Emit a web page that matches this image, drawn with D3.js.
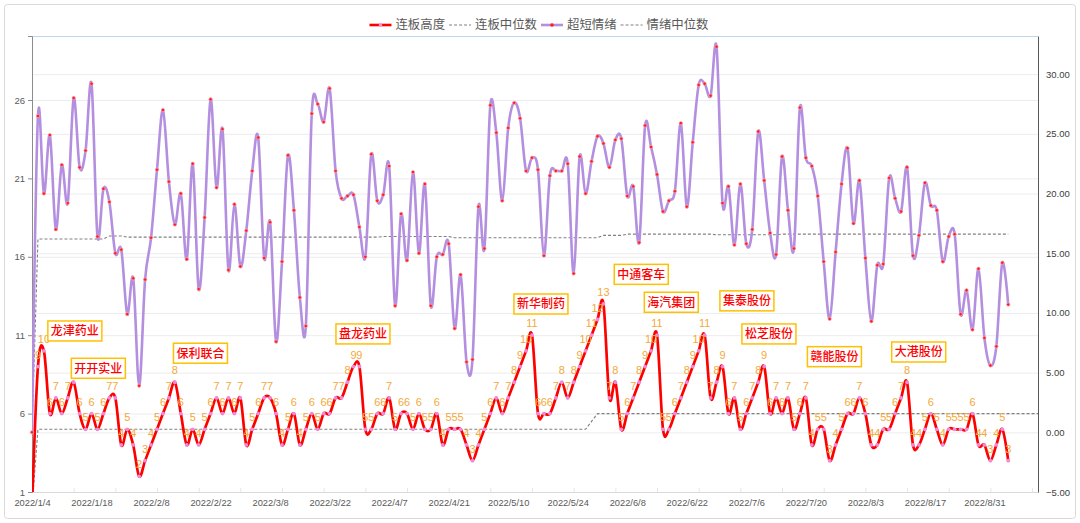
<!DOCTYPE html>
<html><head><meta charset="utf-8">
<script src="https://cdn.jsdelivr.net/npm/d3@7"></script>
<style>html,body{margin:0;padding:0;background:#fff;}svg{display:block;}</style>
</head><body>
<svg id="c" width="1080" height="523"></svg>
<script>
// ---------- data ----------
const dates = [
"2022/1/4","2022/1/5","2022/1/6","2022/1/7","2022/1/10","2022/1/11","2022/1/12","2022/1/13","2022/1/14","2022/1/17",
"2022/1/18","2022/1/19","2022/1/20","2022/1/21","2022/1/24","2022/1/25","2022/1/26","2022/1/27","2022/1/28","2022/2/7",
"2022/2/8","2022/2/9","2022/2/10","2022/2/11","2022/2/14","2022/2/15","2022/2/16","2022/2/17","2022/2/18","2022/2/21",
"2022/2/22","2022/2/23","2022/2/24","2022/2/25","2022/2/28","2022/3/1","2022/3/2","2022/3/3","2022/3/4","2022/3/7",
"2022/3/8","2022/3/9","2022/3/10","2022/3/11","2022/3/14","2022/3/15","2022/3/16","2022/3/17","2022/3/18","2022/3/21",
"2022/3/22","2022/3/23","2022/3/24","2022/3/25","2022/3/28","2022/3/29","2022/3/30","2022/3/31","2022/4/1","2022/4/6",
"2022/4/7","2022/4/8","2022/4/11","2022/4/12","2022/4/13","2022/4/14","2022/4/15","2022/4/18","2022/4/19","2022/4/20",
"2022/4/21","2022/4/22","2022/4/25","2022/4/26","2022/4/27","2022/4/28","2022/4/29","2022/5/5","2022/5/6","2022/5/9",
"2022/5/10","2022/5/11","2022/5/12","2022/5/13","2022/5/16","2022/5/17","2022/5/18","2022/5/19","2022/5/20","2022/5/23",
"2022/5/24","2022/5/25","2022/5/26","2022/5/27","2022/5/30","2022/5/31","2022/6/1","2022/6/2","2022/6/6","2022/6/7",
"2022/6/8","2022/6/9","2022/6/10","2022/6/13","2022/6/14","2022/6/15","2022/6/16","2022/6/17","2022/6/20","2022/6/21",
"2022/6/22","2022/6/23","2022/6/24","2022/6/27","2022/6/28","2022/6/29","2022/6/30","2022/7/1","2022/7/4","2022/7/5",
"2022/7/6","2022/7/7","2022/7/8","2022/7/11","2022/7/12","2022/7/13","2022/7/14","2022/7/15","2022/7/18","2022/7/19",
"2022/7/20","2022/7/21","2022/7/22","2022/7/25","2022/7/26","2022/7/27","2022/7/28","2022/7/29","2022/8/1","2022/8/2",
"2022/8/3","2022/8/4","2022/8/5","2022/8/8","2022/8/9","2022/8/10","2022/8/11","2022/8/12","2022/8/15","2022/8/16",
"2022/8/17","2022/8/18","2022/8/19","2022/8/22","2022/8/23","2022/8/24","2022/8/25","2022/8/26","2022/8/29","2022/8/30",
"2022/8/31","2022/9/1","2022/9/2","2022/9/5","2022/9/6","2022/9/7","2022/9/8","2022/9/9","2022/9/13","2022/9/14"
];

// 连板高度 (left axis)
const lianbanHeight = [
0,9,10,6,7,6,7,8,6,5,
6,5,6,7,7,4,5,4,2,3,
4,5,6,7,8,6,4,5,4,5,
6,7,6,7,6,7,4,5,6,7,
7,6,4,5,6,4,5,6,5,6,
6,7,7,8,9,9,5,5,6,6,
7,5,6,6,5,6,5,5,6,4,
5,5,5,4,3,4,5,6,7,6,
7,8,9,10,11,6,6,6,7,8,
7,8,9,10,11,12,13,7,8,5,
6,7,8,9,10,11,5,5,6,7,
8,9,10,11,7,8,9,6,7,5,
6,7,8,9,6,7,6,7,5,6,
7,4,5,5,3,4,5,6,6,7,
6,4,4,5,5,6,7,8,4,4,
5,6,5,4,5,5,5,5,6,4,
4,3,4,5,3,null,null,null,null,null
];

// 连板中位数 (left axis)
const lianbanMedian = [
0,5,5,5,5,5,5,5,5,5,
5,5,5,5,5,5,5,5,5,5,
5,5,5,5,5,5,5,5,5,5,
5,5,5,5,5,5,5,5,5,5,
5,5,5,5,5,5,5,5,5,5,
5,5,5,5,5,5,5,5,5,5,
5,5,5,5,5,5,5,5,5,5,
5,5,5,5,5,5,5,5,5,5,
5,5,5,5,5,5,5,5,5,5,
5,5,5,5,5.5,6,6,6,6,6,
6,6,6,6,6,6,6,6,6,6,
6,6,6,6,6,6,6,6,6,6,
6,6,6,6,6,6,6,6,6,6,
6,6,6,6,6,6,6,6,6,6,
6,6,6,6,6,6,6,6,6,6,
6,6,6,6,6,6,6,6,6,6,
6,6,6,6,6,6,6,6,6,6
];

// 超短情绪 (right axis)
const emotion = [
0,26.5,20.0,24.9,17.0,22.4,19.2,28.0,22.2,23.6,
29.2,16.4,20.4,19.3,15.0,15.3,9.9,12.9,3.9,12.8,
16.3,22.0,27.0,21.0,17.4,20.0,14.5,22.5,12.0,18.0,
27.9,20.5,25.4,13.6,19.1,13.9,16.9,21.9,24.7,14.6,
17.6,7.6,14.3,23.2,18.6,11.3,8.9,26.7,27.5,26.0,
28.8,21.9,19.6,19.8,19.9,17.2,14.7,23.3,19.4,19.9,
22.3,10.6,18.3,14.4,21.8,15.0,20.8,10.6,14.7,14.9,
15.8,8.7,13.2,5.9,6.1,18.9,15.4,27.4,25.1,19.4,
25.5,27.6,26.3,21.9,23.0,22.0,14.8,21.5,21.9,21.9,
22.5,13.3,23.1,20.0,22.7,24.8,24.2,22.2,24.5,24.6,
19.8,20.6,15.9,25.7,23.9,21.6,18.5,19.4,20.2,25.9,
18.9,24.3,29.1,29.2,28.2,32.3,19.2,20.6,15.7,20.8,
15.8,17.0,25.2,21.1,16.7,14.9,23.1,18.6,15.4,27.2,
23.0,22.3,19.8,14.3,9.5,15.1,20.8,23.8,17.5,21.1,
14.6,9.3,14.0,14.1,21.3,19.6,18.5,22.2,14.8,16.5,
20.9,19.0,18.6,14.3,16.4,16.6,9.9,11.9,8.6,13.7,
7.9,5.6,7.2,14.2,10.7,null,null,null,null,null
];

// 情绪中位数 (right axis)
const emotionMedian = [
0,16.2,16.2,16.2,16.2,16.2,16.2,16.2,16.2,16.2,
16.2,16.2,16.2,16.45,16.45,16.45,16.35,16.35,16.35,16.35,
16.35,16.35,16.35,16.35,16.35,16.35,16.35,16.35,16.35,16.35,
16.35,16.35,16.35,16.35,16.35,16.35,16.35,16.35,16.35,16.35,
16.35,16.35,16.35,16.35,16.35,16.35,16.35,16.35,16.35,16.35,
16.35,16.35,16.35,16.35,16.35,16.35,16.35,16.35,16.35,16.4,
16.4,16.4,16.4,16.4,16.4,16.4,16.4,16.4,16.4,16.4,
16.4,16.3,16.3,16.3,16.3,16.3,16.3,16.3,16.3,16.3,
16.3,16.3,16.3,16.3,16.3,16.3,16.3,16.3,16.3,16.3,
16.3,16.3,16.3,16.3,16.3,16.3,16.5,16.5,16.5,16.5,
16.6,16.6,16.6,16.6,16.6,16.6,16.6,16.6,16.6,16.6,
16.6,16.6,16.6,16.6,16.6,16.55,16.55,16.55,16.55,16.55,
16.55,16.55,16.55,16.55,16.55,16.55,16.6,16.6,16.6,16.6,
16.6,16.6,16.6,16.6,16.6,16.6,16.6,16.6,16.6,16.6,
16.6,16.6,16.6,16.6,16.6,16.6,16.6,16.6,16.6,16.6,
16.6,16.6,16.6,16.6,16.6,16.6,16.6,16.6,16.6,16.6,
16.6,16.6,16.6,16.6,16.6,null,null,null,null,null
];

const seriesNames = ["连板高度","连板中位数","超短情绪","情绪中位数"];
const leftTicks = [1,6,11,16,21,26];
const rightTicks = [-5,0,5,10,15,20,25,30];
const xLabelStep = 10;
const xMinorStep = 7;

// callout boxes: stock name, anchored at (date index, left-axis value)
const callouts = [
  {name:"龙津药业", i:7.2,   v:11.27},
  {name:"开开实业", i:11.15, v:8.89},
  {name:"保利联合", i:28.3,  v:9.85},
  {name:"盘龙药业", i:55.6,  v:11.08},
  {name:"新华制药", i:85.5,  v:12.99},
  {name:"中通客车", i:102.35,v:14.88},
  {name:"海汽集团", i:107.4, v:13.1},
  {name:"集泰股份", i:120.1, v:13.19},
  {name:"松芝股份", i:123.8, v:11.08},
  {name:"赣能股份", i:134.8, v:9.63},
  {name:"大港股份", i:148.96,v:9.93}
];

// ---------- chart ----------
const M = {l:32, r:1038, t:36, b:492};
const svg = d3.select("#c");
const FONT = "'Liberation Sans','Noto Sans CJK SC',sans-serif";
const CJK = "'Noto Sans CJK SC',sans-serif";
const x = d3.scaleLinear().domain([0, dates.length-1]).range([M.l, M.r]);
const yL = d3.scaleLinear().domain([1, 30.08]).range([M.b, M.t]);
const yR = d3.scaleLinear().domain([-5, 33.2]).range([M.b, M.t]);

svg.append("rect").attr("x",4.5).attr("y",4.5).attr("width",1071).attr("height",514)
  .attr("rx",3).attr("fill","#fff").attr("stroke","#d9d9d9");

svg.append("defs").append("clipPath").attr("id","plotClip")
  .append("rect").attr("x",M.l).attr("y",M.t).attr("width",M.r-M.l).attr("height",M.b-M.t);

// gridlines
const grid = svg.append("g");
grid.append("g").attr("transform",`translate(${M.l},0)`)
  .call(d3.axisLeft(yL).tickValues(leftTicks.filter(t=>t>1)).tickSize(-(M.r-M.l)).tickFormat(""))
  .call(g=>{g.select(".domain").remove(); g.selectAll("line").attr("stroke","#ececec");});
grid.append("g").attr("transform",`translate(${M.r},0)`)
  .call(d3.axisRight(yR).tickValues(rightTicks.filter(t=>t>-5)).tickSize(-(M.r-M.l)).tickFormat(""))
  .call(g=>{g.select(".domain").remove(); g.selectAll("line").attr("stroke","#ececec");});

// top border of plot area
svg.append("line").attr("x1",M.l).attr("x2",M.r).attr("y1",M.t+0.5).attr("y2",M.t+0.5)
  .attr("stroke","#bdd7ee").attr("stroke-width",1);

// bottom axis
const xIdx = d3.range(0, dates.length);
svg.append("g").attr("transform",`translate(0,${M.b})`)
  .call(d3.axisBottom(x).tickValues(xIdx.filter(i=>i%xMinorStep===0)).tickSize(-4).tickFormat(""))
  .call(g=>{g.select(".domain").attr("stroke","#d9d9d9"); g.selectAll("line").attr("stroke","#e6e6e6");});
svg.append("g").attr("transform",`translate(0,${M.b})`)
  .call(d3.axisBottom(x).tickValues(xIdx.filter(i=>i%xLabelStep===0)).tickSize(0).tickPadding(7)
    .tickFormat(i=>dates[i]))
  .call(g=>{g.select(".domain").remove();
    g.selectAll("text").attr("fill","#595959").style("font-family",FONT).style("font-size","9.3px");});

// left axis
svg.append("g").attr("transform",`translate(${M.l},0)`)
  .call(d3.axisLeft(yL).tickValues(leftTicks).tickSize(4).tickPadding(3))
  .call(g=>{g.select(".domain").attr("stroke","#8c8c8c");
    g.selectAll("line").attr("stroke","#8c8c8c");
    g.selectAll("text").attr("fill","#595959").style("font-family",FONT).style("font-size","9.5px");});
// right axis
svg.append("g").attr("transform",`translate(${M.r},0)`)
  .call(d3.axisRight(yR).tickValues(rightTicks).tickSize(0).tickPadding(8).tickFormat(d3.format(".2f")))
  .call(g=>{g.select(".domain").attr("stroke","#595959");
    g.selectAll("text").attr("fill","#404040").style("font-family",FONT).style("font-size","9.5px");});

const plot = svg.append("g");
const clipped = plot.append("g").attr("clip-path","url(#plotClip)");
const smooth = d3.curveCatmullRom.alpha(0);

const lineOf = (scale, curve) => d3.line().defined(d=>d!=null).x((d,i)=>x(i)).y(d=>scale(d)).curve(curve);

// median dashed lines
clipped.append("path").datum(lianbanMedian).attr("d", lineOf(yL, d3.curveLinear))
  .attr("fill","none").attr("stroke","#808080").attr("stroke-width",1.1).attr("stroke-dasharray","3,2");
clipped.append("path").datum(emotionMedian).attr("d", lineOf(yR, d3.curveLinear))
  .attr("fill","none").attr("stroke","#808080").attr("stroke-width",1.1).attr("stroke-dasharray","3,2");

// emotion line
clipped.append("path").datum(emotion).attr("d", lineOf(yR, smooth))
  .attr("fill","none").attr("stroke","#b48fe0").attr("stroke-width",2.6).attr("stroke-linejoin","round");
// lianban line
clipped.append("path").datum(lianbanHeight).attr("d", lineOf(yL, smooth))
  .attr("fill","none").attr("stroke","#ff0000").attr("stroke-width",2.7).attr("stroke-linejoin","round");

// markers
plot.append("g").selectAll("circle")
  .data(emotion.map((v,i)=>({v,i})).filter(d=>d.v!=null))
  .join("circle").attr("cx",d=>x(d.i)).attr("cy",d=>yR(d.v)).attr("r",1.7)
  .attr("fill","#ff2020").attr("stroke","#f7b6c8").attr("stroke-width",0.6);
plot.append("g").selectAll("circle")
  .data(lianbanHeight.map((v,i)=>({v,i})).filter(d=>d.v!=null && d.v>=1))
  .join("circle").attr("cx",d=>x(d.i)).attr("cy",d=>yL(d.v)).attr("r",1.9)
  .attr("fill","#f08ad8").attr("stroke","none");

// data labels
plot.append("g").selectAll("text")
  .data(lianbanHeight.map((v,i)=>({v,i})).filter(d=>d.v!=null && d.v>=1))
  .join("text").attr("x",d=>x(d.i)).attr("y",d=>yL(d.v)-8)
  .attr("text-anchor","middle").attr("fill","#f2a93b")
  .style("font-family","'Liberation Sans',sans-serif").style("font-size","11px")
  .text(d=>d.v);

// callouts
const cg = plot.append("g").selectAll("g").data(callouts).join("g")
  .attr("transform",d=>`translate(${x(d.i)},${yL(d.v)})`);
cg.append("rect").attr("x",-27).attr("y",-10).attr("width",54).attr("height",20)
  .attr("fill","#fff").attr("stroke","#ffc000").attr("stroke-width",1.5);
cg.append("text").attr("text-anchor","middle").attr("dy","0.36em").attr("fill","#ff0000")
  .style("font-family",CJK).style("font-size","12px").style("font-weight","500")
  .text(d=>d.name);

// legend
const leg = svg.append("g").attr("transform","translate(0,25)");
const items = [
  {name:seriesNames[0], type:"solid", color:"#ff0000", marker:"#f08ad8"},
  {name:seriesNames[1], type:"dash", color:"#808080"},
  {name:seriesNames[2], type:"solid", color:"#b48fe0", marker:"#ff2020"},
  {name:seriesNames[3], type:"dash", color:"#808080"}
];
let cx = 0;
const ig = leg.selectAll("g").data(items).join("g");
ig.each(function(d){
  const g = d3.select(this);
  g.append("line").attr("x1",0).attr("x2",22).attr("y1",0).attr("y2",0)
    .attr("stroke",d.color).attr("stroke-width",d.type==="solid"?2.6:1.1)
    .attr("stroke-dasharray",d.type==="dash"?"3,2":null);
  if (d.marker) g.append("circle").attr("cx",11).attr("cy",0).attr("r",1.8).attr("fill",d.marker);
  const t = g.append("text").attr("x",26).attr("dy","0.35em").attr("fill","#595959")
    .style("font-family",CJK).style("font-size","12.4px").text(d.name);
  const w = 26 + t.node().getComputedTextLength();
  g.attr("transform",`translate(${cx},0)`);
  d.w = w; cx += w + 4;
});
const total = cx - 4;
leg.attr("transform",`translate(${539 - total/2},25)`);
</script>
</body></html>
